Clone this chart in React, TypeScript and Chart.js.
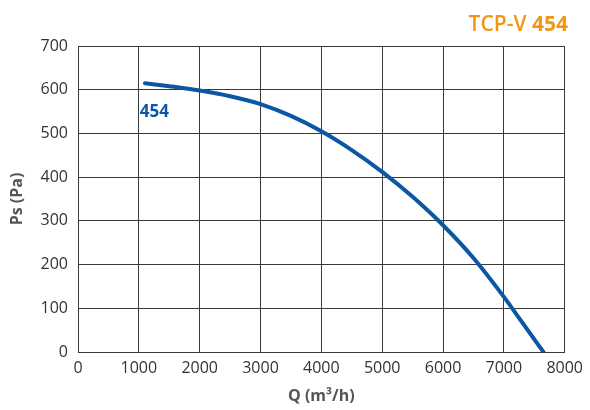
import React, { useEffect, useRef } from "react";
import { Chart, registerables } from "chart.js";

Chart.register(...registerables);

const flowQ = [1100, 1500, 2000, 2500, 3000, 3500, 4000, 4500, 5000, 5500, 6000, 6500, 7000, 7300, 7650];
const pressurePs = [615, 608, 598, 585, 567, 540, 505, 462, 412, 355, 290, 215, 126, 68, 0];
const xTicks = [0, 1000, 2000, 3000, 4000, 5000, 6000, 7000, 8000];
const yTicks = [0, 100, 200, 300, 400, 500, 600, 700];
const seriesLabel = "454";
const titleMain = "TCP-V ";
const titleModel = "454";

const overlayPlugin = {
  id: "overlayText",
  afterDraw(chart: any) {
    const ctx = chart.ctx;
    const xs = chart.scales.x;
    const ys = chart.scales.y;
    ctx.save();
    ctx.fillStyle = "#f39511";
    ctx.textBaseline = "alphabetic";
    ctx.textAlign = "left";
    ctx.font = "bold 21px 'Open Sans'";
    const wModel = ctx.measureText(titleModel).width;
    ctx.font = "600 21px 'Open Sans'";
    const wMain = ctx.measureText(titleMain).width;
    const right = 568;
    const startX = right - wModel - wMain;
    ctx.fillText(titleMain, startX, 31);
    ctx.font = "bold 21px 'Open Sans'";
    ctx.fillText(titleModel, startX + wMain, 31);
    ctx.fillStyle = "#0b57a4";
    ctx.font = "bold 17px 'Open Sans'";
    ctx.fillText(seriesLabel, xs.getPixelForValue(1000) + 1, ys.getPixelForValue(538));
    ctx.restore();
  },
};

export default function App() {
  const ref = useRef<HTMLCanvasElement>(null);
  useEffect(() => {
    document.body.style.margin = "0";
    const chart = new Chart(ref.current!, {
      type: "scatter",
      data: {
        datasets: [
          {
            label: seriesLabel,
            data: flowQ.map((q, i) => ({ x: q, y: pressurePs[i] })),
            showLine: true,
            borderColor: "#0b57a4",
            borderWidth: 4,
            pointRadius: 0,
            cubicInterpolationMode: "monotone",
            borderCapStyle: "round",
          } as any,
        ],
      },
      options: {
        animation: false,
        responsive: false,
        devicePixelRatio: 1,
        layout: { padding: { left: 0, right: 24, top: 46, bottom: 0 } },
        plugins: { legend: { display: false }, tooltip: { enabled: false } },
        scales: {
          x: {
            type: "linear",
            min: 0,
            max: 8000,
            afterBuildTicks: (s: any) => {
              s.ticks = xTicks.map((v) => ({ value: v }));
            },
            afterFit: (s: any) => {
              s.height = 58;
            },
            grid: { color: "#3a3a3a", lineWidth: 1, drawTicks: false },
            border: { color: "#3a3a3a" },
            ticks: {
              color: "#333",
              font: { family: "'Open Sans'", size: 16 },
              padding: 7,
              callback: (v: any) => String(v),
            },
            title: {
              display: true,
              text: "Q (m³/h)",
              color: "#555",
              font: { family: "'Open Sans'", size: 16, weight: "bold" },
              padding: { top: 4, bottom: 4 },
            },
          },
          y: {
            type: "linear",
            min: 0,
            max: 700,
            afterBuildTicks: (s: any) => {
              s.ticks = yTicks.map((v) => ({ value: v }));
            },
            afterFit: (s: any) => {
              s.width = 78;
            },
            grid: { color: "#3a3a3a", lineWidth: 1, drawTicks: false },
            border: { color: "#3a3a3a" },
            ticks: {
              color: "#333",
              font: { family: "'Open Sans'", size: 16 },
              padding: 10,
              callback: (v: any) => String(v),
            },
            title: {
              display: true,
              text: "Ps (Pa)",
              color: "#555",
              font: { family: "'Open Sans'", size: 16, weight: "bold" },
              padding: { top: 8, bottom: 4 },
            },
          },
        },
      },
      plugins: [overlayPlugin],
    });
    return () => chart.destroy();
  }, []);
  return (
    <div style={{ position: "absolute", left: 0, top: 0, width: 590, height: 410 }}>
      <canvas ref={ref} width={590} height={410} style={{ width: 590, height: 410 }} />
    </div>
  );
}
